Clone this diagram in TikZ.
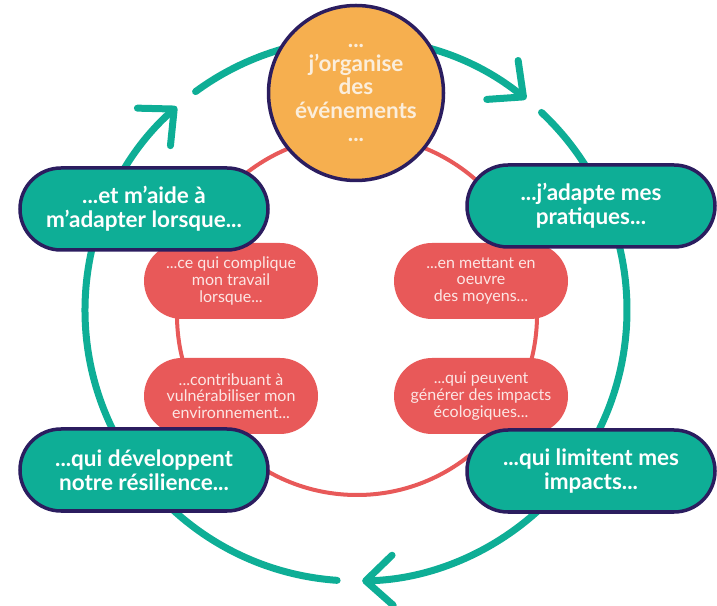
\documentclass[tikz,border=0pt]{standalone}
\usepackage{fontspec}
\setmainfont{Lato}
\usetikzlibrary{arrows.meta, shapes.misc}
\definecolor{cycgreen}{HTML}{0EAE96}
\definecolor{cycred}{HTML}{E85959}
\definecolor{cycorange}{HTML}{F6AF4F}
\definecolor{cycnavy}{HTML}{2B1D5F}
\definecolor{cycpink}{HTML}{FCE6E4}
\definecolor{cyccream}{HTML}{FBEEDC}

\begin{document}
\begin{tikzpicture}[x=1pt, y=1pt,
	loop/.style={cycgreen, line width=7pt, line cap=round},
	turn/.style={-{Straight Barb[round, length=27pt, width=50pt]}},
	stage/.style={rounded rectangle, fill=cycgreen, draw=cycnavy, line width=3.5pt,
		minimum width=248pt, minimum height=82pt, inner sep=0pt, align=center,
		text=white, font=\fontsize{22.5}{24}\selectfont\bfseries},
	detail/.style={rounded rectangle, fill=cycred, minimum width=174pt, minimum height=76pt,
		inner sep=0pt, align=center, text=cycpink, font=\fontsize{16}{16.8}\selectfont}
]
	\useasboundingbox (0,0) rectangle (717,605);

	\begin{scope}[shift={(356,295)}]
		\draw [loop, turn] (126.3:271) arc (126.3:51.1:271);
		\draw [loop, turn] (46.8:271) arc (46.8:-88.7:271);
		\draw [loop, turn] (-94:271) arc (-94:-228.6:271);
	\end{scope}

	\draw [cycred, line width=4pt] (357,290) circle (180);

	\node [detail] (complique) at (231,324) {...ce qui complique\\mon travail\\lorsque...};
	\node [detail] (moyens) at (481,324) {...en mettant en\\oeuvre\\des moyens...};
	\node [detail] (vulnerab) at (231,209) {...contribuant à\\vulnérabiliser mon\\environnement...};
	\node [detail] (impacts) at (481,209) {...qui peuvent\\générer des impacts\\écologiques...};

	\node [circle, fill=cycorange, draw=cycnavy, line width=3.5pt, minimum size=175pt,
		inner sep=0pt, align=center, text=cyccream,
		font=\fontsize{22.5}{23.5}\selectfont\bfseries] (organise) at (356,512)
		{...\\j’organise\\des\\événements\\...};

	\node [stage] (aide) at (144,396) {...et m’aide à\\m’adapter lorsque...};
	\node [stage] (adapte) at (591,399) {...j’adapte mes\\pratiques...};
	\node [stage] (developpent) at (144,135) {...qui développent\\notre résilience...};
	\node [stage] (limitent) at (591,134) {...qui limitent mes\\impacts...};
\end{tikzpicture}
\end{document}
